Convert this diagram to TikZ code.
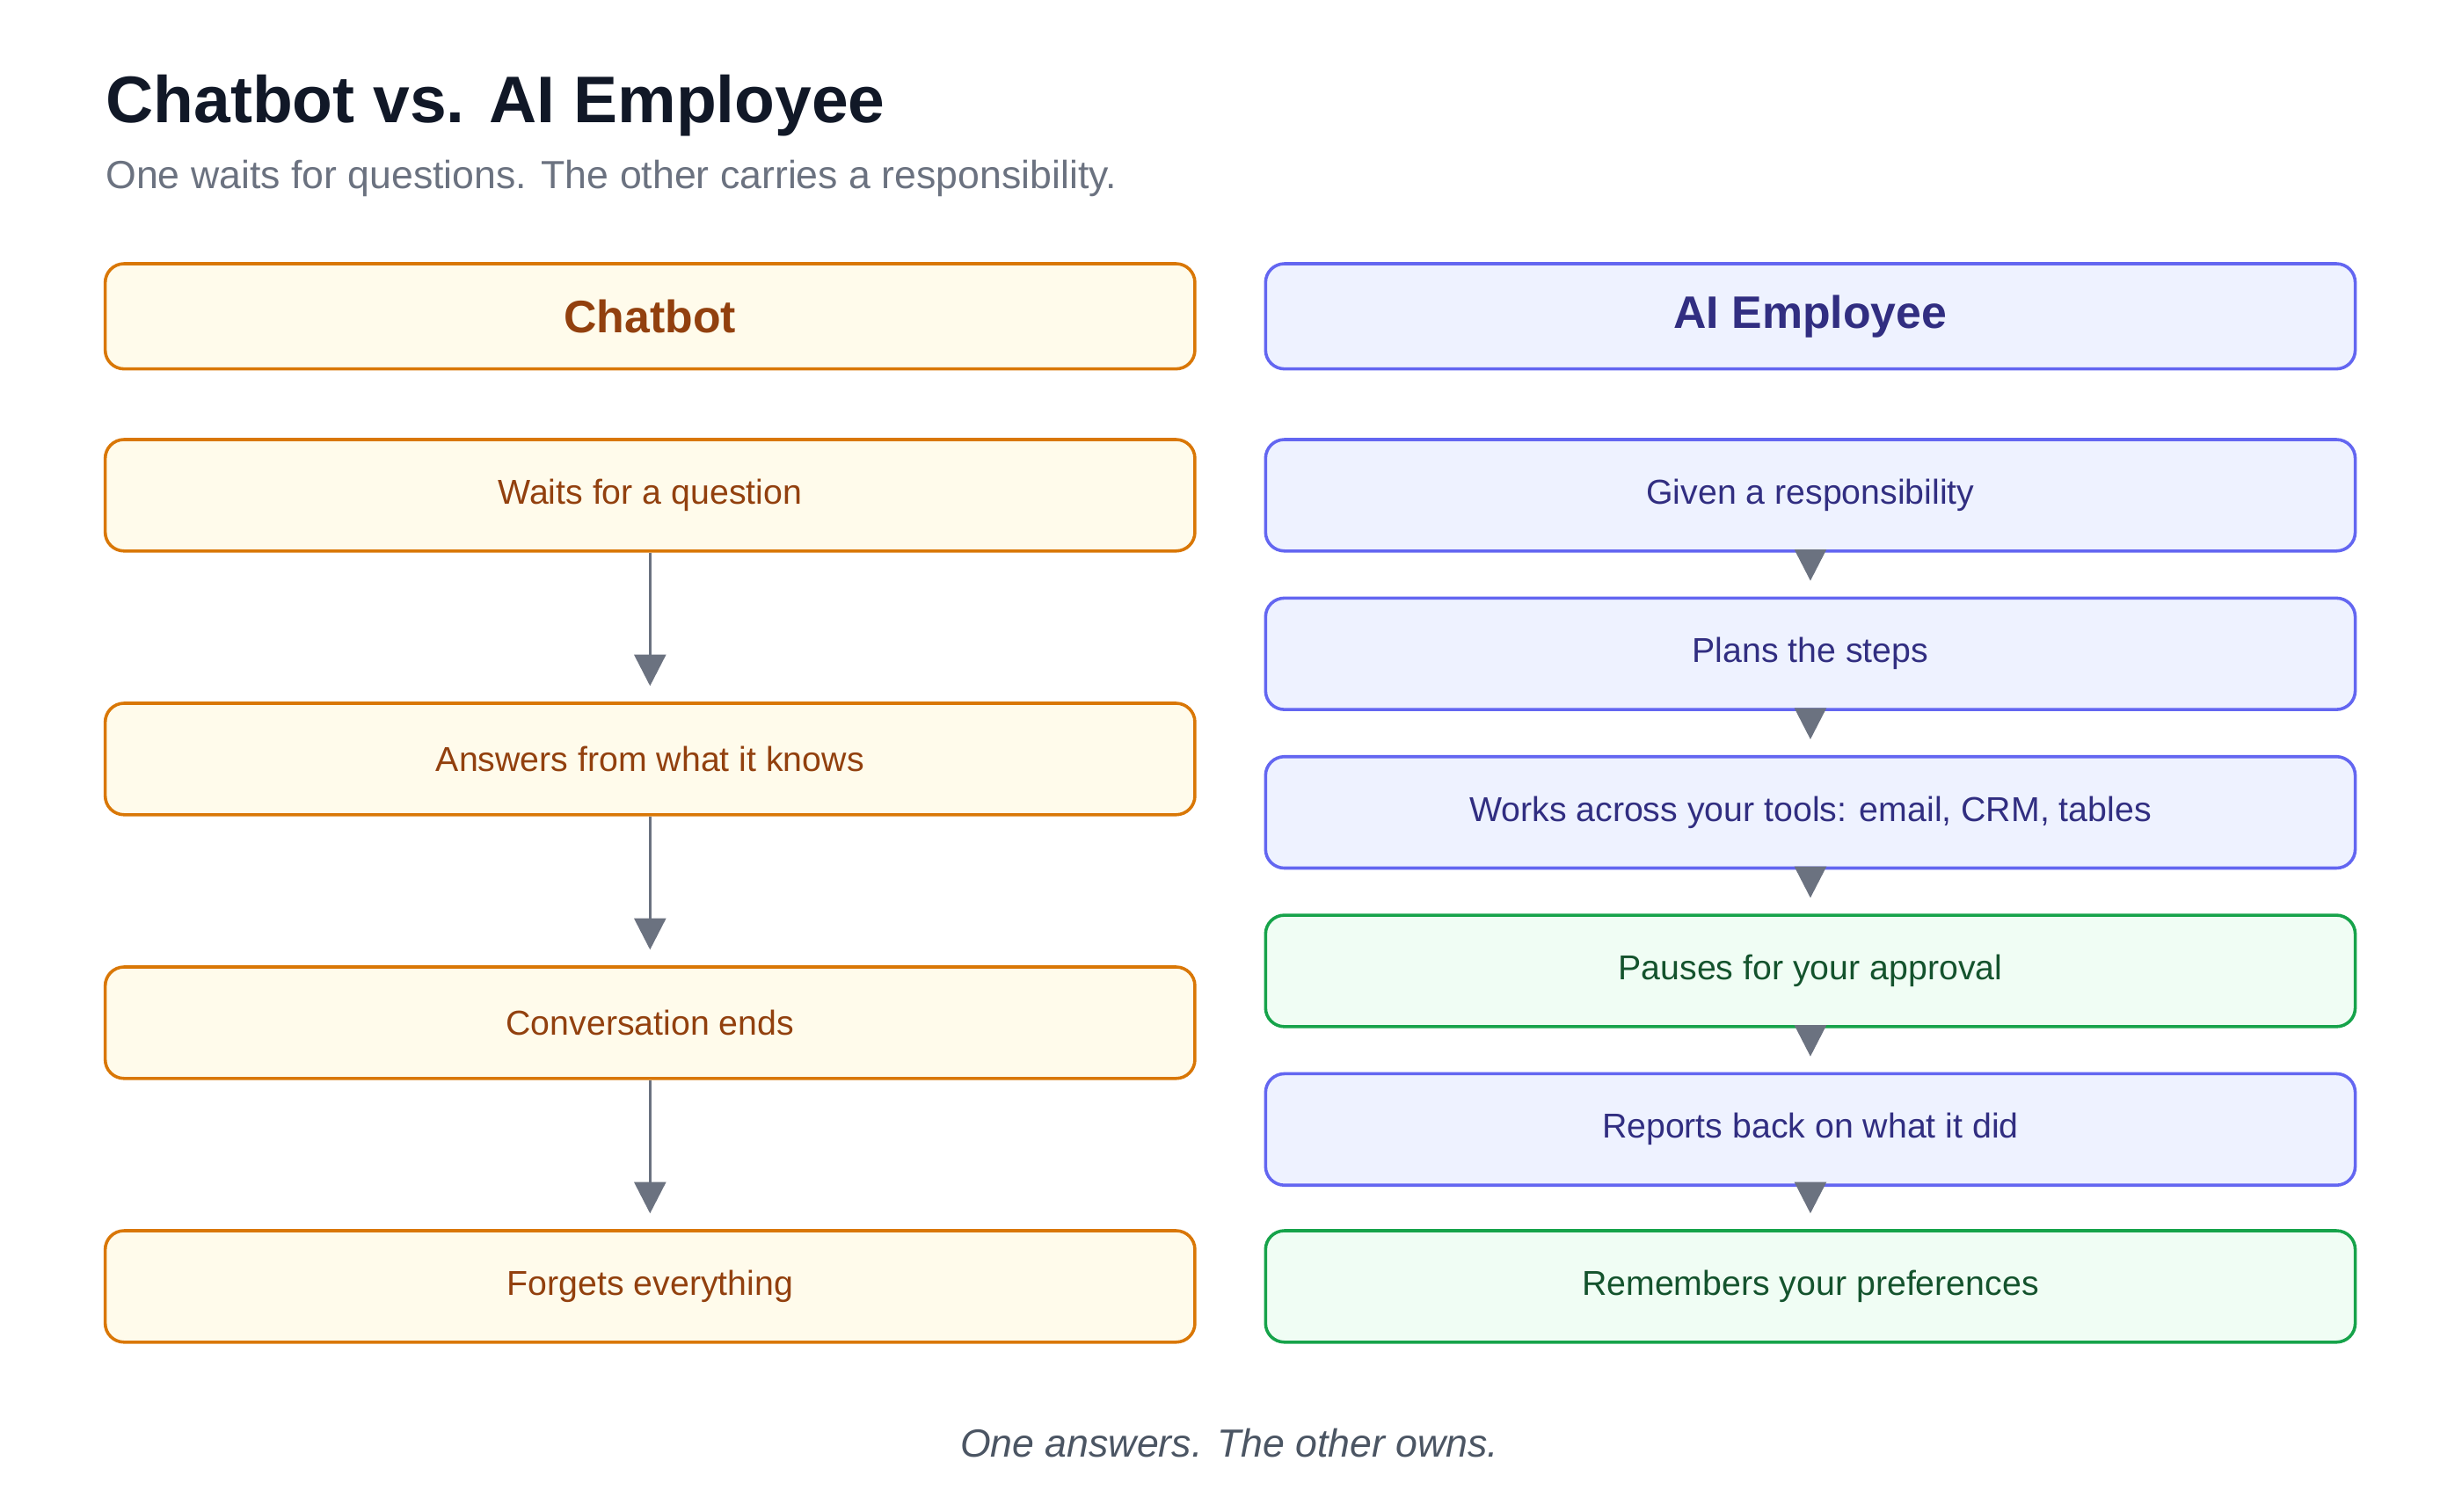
\documentclass[tikz,border=0pt]{standalone}
\usepackage{fontspec}
\setmainfont{Liberation Sans}
\usetikzlibrary{arrows.meta}
\definecolor{oB}{HTML}{D97706}\definecolor{oF}{HTML}{FFFBEB}\definecolor{oT}{HTML}{92400E}
\definecolor{iB}{HTML}{6366F1}\definecolor{iF}{HTML}{EEF2FF}\definecolor{iT}{HTML}{312E81}
\definecolor{gB}{HTML}{16A34A}\definecolor{gF}{HTML}{F0FDF4}\definecolor{gT}{HTML}{14532D}
\definecolor{ttl}{HTML}{111827}\definecolor{sub}{HTML}{6B7280}\definecolor{ft}{HTML}{4B5563}
\definecolor{arr}{HTML}{6B7280}
\begin{document}
\begin{tikzpicture}[x=0.5pt,y=-0.5pt,
 box/.style={draw,rounded corners=6pt,line width=1pt,minimum width=347pt,minimum height=35.5pt,font=\fontsize{11}{13}\selectfont,inner sep=0pt},
 ob/.style={box,draw=oB,fill=oF,text=oT},
 ib/.style={box,draw=iB,fill=iF,text=iT},
 gb/.style={box,draw=gB,fill=gF,text=gT},
 hd/.style={font=\fontsize{14.5}{17}\selectfont\bfseries},
 ar/.style={draw=arr,line width=1pt,-{Triangle[length=10pt,width=10pt]},shorten >=5pt}]
\useasboundingbox (0,0) rectangle (1568,963);
\node[anchor=base west,text=ttl,font=\fontsize{21}{25}\selectfont\bfseries,inner sep=0] (t) at (67,78) {Chatbot vs. AI Employee};
\node[anchor=base west,text=sub,font=\fontsize{12.5}{15}\selectfont,inner sep=0] (s) at (67,120) {One waits for questions. The other carries a responsibility.};
\node[ob,hd,minimum height=33.5pt] (lh) at (414,201.5) {Chatbot};
\node[ib,hd,minimum height=33.5pt] (rh) at (1153,201.5) {AI Employee};
\node[ob] (l1) at (414,315.5) {Waits for a question};
\node[ob] (l2) at (414,483.5) {Answers from what it knows};
\node[ob] (l3) at (414,651.5) {Conversation ends};
\node[ob] (l4) at (414,819.5) {Forgets everything};
\node[ib] (r1) at (1153,315.5) {Given a responsibility};
\node[ib] (r2) at (1153,416.5) {Plans the steps};
\node[ib] (r3) at (1153,517.5) {Works across your tools: email, CRM, tables};
\node[gb] (r4) at (1153,618.5) {Pauses for your approval};
\node[ib] (r5) at (1153,719.5) {Reports back on what it did};
\node[gb] (r6) at (1153,819.5) {Remembers your preferences};
\foreach \a/\b in {l1/l2,l2/l3,l3/l4,r1/r2,r2/r3,r3/r4,r4/r5,r5/r6}
  \draw[ar] (\a.south) -- (\b.north);
\node[text=ft,font=\fontsize{12.5}{15}\selectfont\itshape,anchor=base] (f) at (783,928) {One answers. The other owns.};
\end{tikzpicture}
\end{document}
